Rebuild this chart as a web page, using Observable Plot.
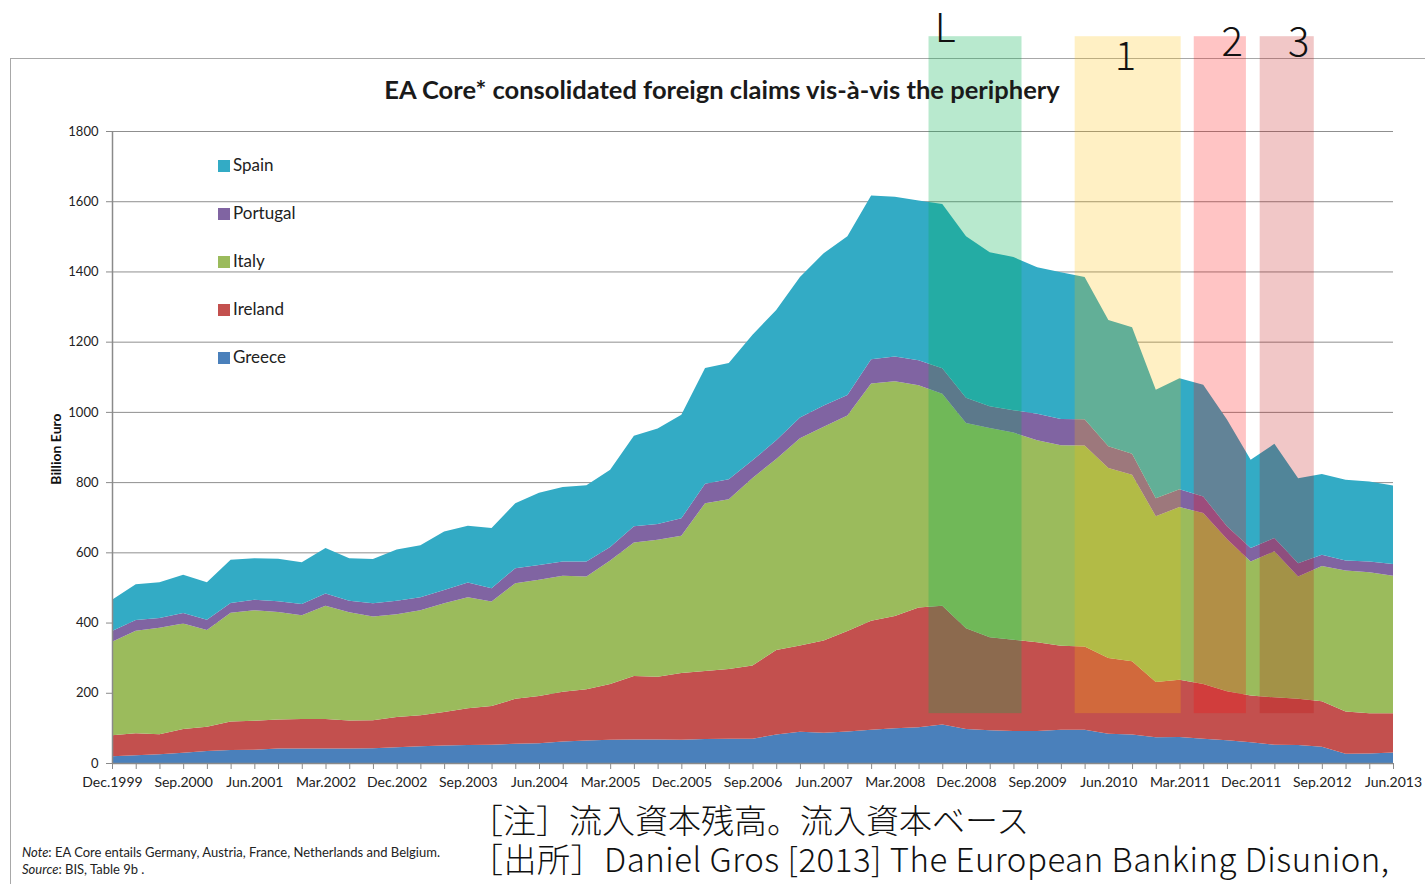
<!DOCTYPE html>
<html>
<head>
<meta charset="utf-8">
<script src="https://cdn.jsdelivr.net/npm/d3@7"></script>
<script src="https://cdn.jsdelivr.net/npm/@observablehq/plot@0.6"></script>
<style>
  html, body { margin: 0; padding: 0; background: #fff; }
  #wrap { position: relative; width: 1425px; height: 884px; overflow: hidden; font-family: Lato, "Open Sans", sans-serif; }
  #frame { position: absolute; left: 10px; top: 58px; width: 1430px; height: 840px; border-left: 1.5px solid #a8a8a8; border-top: 1.5px solid #a8a8a8; }
  #chart { position: absolute; left: 0; top: 0; }
  .abs { position: absolute; white-space: nowrap; }
  #title { left: 0; width: 1444px; top: 73px; text-align: center; font-weight: 700; font-size: 25.5px; line-height: 32px; color: #1a1a1a; }
  .leg { position: absolute; left: 218px; font-size: 17px; color: #222; line-height: 20px; }
  .leg span.sw { display: inline-block; width: 12px; height: 12px; margin-right: 3px; vertical-align: -1px; }
  #ylab { left: 55px; top: 449px; transform: translate(-50%, -50%) rotate(-90deg); font-weight: 700; font-size: 14px; color: #111; }
  .note { left: 22px; font-size: 13px; color: #222; }
  .jp { left: 470px; font-family: "Noto Sans CJK JP", sans-serif; font-weight: 300; font-size: 33px; line-height: 33px; color: #111; }
</style>
</head>
<body>
<div id="wrap">
  <div id="frame"></div>
  <div id="chart"></div>
  <div id="title" class="abs"></div>
  <div id="legend"></div>
  <div id="ylab" class="abs"></div>
  <div class="abs note" style="top:844px"><i>Note</i>: EA Core entails Germany, Austria, France, Netherlands and Belgium.</div>
  <div class="abs note" style="top:861px"><i>Source</i>: BIS, Table 9b .</div>
  <div class="abs jp" style="top:803px">［注］流入資本残高。流入資本ベース</div>
  <div class="abs jp" style="top:842px; letter-spacing:0.5px">［出所］Daniel Gros [2013] The European Banking Disunion,</div>
</div>
<script>
// ---- Data ----
const quarters = ["Dec.1999","Mar.2000","Jun.2000","Sep.2000","Dec.2000","Mar.2001","Jun.2001","Sep.2001","Dec.2001",
  "Mar.2002","Jun.2002","Sep.2002","Dec.2002","Mar.2003","Jun.2003","Sep.2003","Dec.2003","Mar.2004","Jun.2004",
  "Sep.2004","Dec.2004","Mar.2005","Jun.2005","Sep.2005","Dec.2005","Mar.2006","Jun.2006","Sep.2006","Dec.2006",
  "Mar.2007","Jun.2007","Sep.2007","Dec.2007","Mar.2008","Jun.2008","Sep.2008","Dec.2008","Mar.2009","Jun.2009",
  "Sep.2009","Dec.2009","Mar.2010","Jun.2010","Sep.2010","Dec.2010","Mar.2011","Jun.2011","Sep.2011","Dec.2011",
  "Mar.2012","Jun.2012","Sep.2012","Dec.2012","Mar.2013","Jun.2013"];
const tickLabels = ["Dec.1999","Sep.2000","Jun.2001","Mar.2002","Dec.2002","Sep.2003","Jun.2004","Mar.2005","Dec.2005",
  "Sep.2006","Jun.2007","Mar.2008","Dec.2008","Sep.2009","Jun.2010","Mar.2011","Dec.2011","Sep.2012","Jun.2013"];
const yTicks = [0,200,400,600,800,1000,1200,1400,1600,1800];

const greece   = [19,22,25,29,34,37,38,41,41,41,41,42,45,48,50,51,52,55,56,61,64,66,67,67,66,68,69,69,81,89,86,90,95,99,102,110,97,93,91,91,95,95,83,81,73,74,69,65,59,52,51,46,26,27,30];
const ireland  = [60,63,57,68,69,81,82,83,84,84,80,80,86,88,95,105,110,128,135,142,146,159,181,179,190,194,199,209,241,246,263,286,310,320,341,338,287,265,260,253,239,237,216,209,158,163,156,139,133,135,132,130,121,115,112];
const italy    = [266,292,303,300,276,310,315,306,296,323,308,295,293,299,310,316,298,329,331,330,321,352,380,390,391,478,483,534,544,590,609,614,676,668,633,604,584,596,590,575,571,572,541,531,472,492,487,434,382,416,348,385,401,401,391];
const portugal = [31,30,28,30,29,28,30,31,32,35,33,38,38,37,38,42,38,43,42,41,43,38,46,45,50,55,57,50,53,59,60,58,69,71,71,72,72,62,64,76,75,75,62,60,51,51,47,36,38,38,38,32,29,31,34];
const spain    = [89,102,102,109,107,123,118,121,119,129,121,126,146,148,166,162,171,185,206,212,217,220,258,272,295,330,331,358,371,400,434,452,466,455,455,468,460,439,436,417,418,405,360,360,309,316,318,304,252,268,242,230,230,228,223];

const countries = ["Greece","Ireland","Italy","Portugal","Spain"];   // stacking order, bottom first
const colors    = ["#4a80bb","#c3504e","#9bbb5c","#8064a2","#33abc5"];
const legendOrder = ["Spain","Portugal","Italy","Ireland","Greece"];

// phase bands (in quarter-index units) and their labels
const bandLabel   = ["L","1","2","3"];
const bandStart   = [34.42, 40.58, 45.6, 48.38];
const bandEnd     = [38.34, 45.05, 47.8, 50.66];
const bandBottom  = 142;
const bandTop     = 2070;
const bandColor   = ["#00b050","#ffc000","#ff0000","#c00000"];
const bandOpacity = [0.28, 0.23, 0.23, 0.22];
const bandLabelX  = [35.1, 42.7, 47.2, 50.0];
const bandLabelY  = [2090, 2011, 2052, 2052];

const titleText = "EA Core* consolidated foreign claims vis-à-vis the periphery";
const yLabelText = "Billion Euro";

// ---- Build table ----
const seriesByCountry = {Greece: greece, Ireland: ireland, Italy: italy, Portugal: portugal, Spain: spain};
const table = quarters.flatMap((q, i) => countries.map(c => ({i, quarter: q, country: c, value: seriesByCountry[c][i]})));
const bands = bandLabel.map((label, k) => ({label, start: bandStart[k], end: bandEnd[k], bottom: bandBottom, top: bandTop,
  color: bandColor[k], opacity: bandOpacity[k], lx: bandLabelX[k], ly: bandLabelY[k]}));
const colorOf = Object.fromEntries(countries.map((c, k) => [c, colors[k]]));

const chart = Plot.plot({
  width: 1425,
  height: 884,
  marginLeft: 112,
  marginRight: 32,
  marginTop: 131,
  marginBottom: 121,
  x: {domain: [0, quarters.length - 1], axis: null},
  y: {domain: [0, 1800], axis: null},
  color: {domain: countries, range: colors},
  style: {fontFamily: "Lato, sans-serif", fontSize: "13px", color: "#222", background: "transparent", overflow: "visible"},
  marks: [
    Plot.gridY(yTicks, {stroke: "#8f8f8f", strokeOpacity: 1, strokeWidth: 1}),
    Plot.areaY(table, {x: "i", y: "value", fill: "country", order: countries}),
    Plot.ruleX([0], {stroke: "#8a8a8a", strokeWidth: 1.5}),
    Plot.ruleY([0], {stroke: "#8a8a8a", strokeWidth: 1.5}),
    Plot.axisY({ticks: yTicks, tickFormat: d => String(d), tickSize: 6, tickPadding: 8, label: null,
      stroke: "#8a8a8a", fontSize: 13, fill: "#222"}),
    Plot.axisX({ticks: quarters.map((q, i) => i), tickFormat: i => tickLabels.includes(quarters[i]) ? quarters[i] : "",
      tickSize: 6, tickPadding: 8, label: null, stroke: "#8a8a8a", fontSize: 14, fill: "#222"}),
    Plot.rect(bands, {x1: "start", x2: "end", y1: "bottom", y2: "top", fill: "color", fillOpacity: "opacity"}),
    Plot.text(bands, {x: "lx", y: "ly", text: "label", fontSize: 40, fontWeight: 300,
      fontFamily: "'Noto Sans CJK JP', sans-serif", fill: "#111", lineAnchor: "middle"})
  ]
});
document.getElementById("chart").appendChild(chart);

document.getElementById("title").textContent = titleText;
document.getElementById("ylab").textContent = yLabelText;

const legend = document.getElementById("legend");
legendOrder.forEach((c, k) => {
  const d = document.createElement("div");
  d.className = "leg";
  d.style.top = (155 + k * 48) + "px";
  d.innerHTML = `<span class="sw" style="background:${colorOf[c]}"></span>${c}`;
  legend.appendChild(d);
});
</script>
</body>
</html>
